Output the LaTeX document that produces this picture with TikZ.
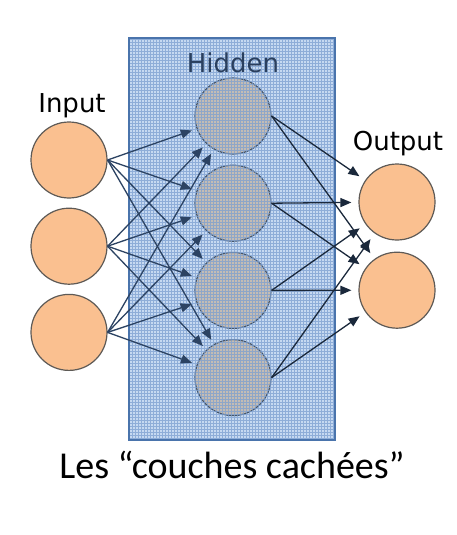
\documentclass[tikz,border=0pt]{standalone}
\usepackage{fontspec}
\usepackage{xcolor}
\usepackage{tikz}
\usetikzlibrary{arrows.meta,positioning}
\newfontfamily\labelfont{DejaVu Sans}
\newfontfamily\capfont{Carlito}
\definecolor{peach}{HTML}{FAC090}
\definecolor{peachline}{HTML}{5E5A56}
\definecolor{hidfill}{HTML}{C4BCB4}
\definecolor{hidline}{HTML}{46566A}
\definecolor{boxfill}{HTML}{C6D9F1}
\definecolor{boxgrid}{HTML}{7C9FD0}
\definecolor{boxline}{HTML}{4A74AC}
\definecolor{wire}{HTML}{2C4363}
\definecolor{hidtext}{HTML}{2A3F5E}

\begin{document}
\begin{tikzpicture}[
    x=1pt, y=-1pt,
    node distance=9pt,
    neuron/.style={circle, draw=peachline, line width=1.2pt, fill=peach, minimum size=76pt, inner sep=0pt},
    hiddenneuron/.style={neuron, draw=hidline, fill=hidfill},
    layername/.style={font=\labelfont\fontsize{26}{26}\selectfont, anchor=base},
    arrow/.style={-{Triangle[length=11pt,width=9pt]}, line width=1.3pt, draw=wire, shorten >=5pt},
    outarrow/.style={arrow, draw=wire!60!black, shorten >=7pt}
]
\fill[white] (0,0) rectangle (456,535);
\useasboundingbox (0,0) rectangle (456,535);
% hidden layer box
\fill[boxfill] (129,38) rectangle (335,440);
% neurons
\node[neuron] (i1) at (69,160) {};
\node[neuron, below=9pt of i1] (i2) {};
\node[neuron, below=9pt of i2] (i3) {};
\node[hiddenneuron] (h1) at (233,116) {};
\node[hiddenneuron, below=10pt of h1] (h2) {};
\node[hiddenneuron, below=10pt of h2] (h3) {};
\node[hiddenneuron, below=10pt of h3] (h4) {};
\node[neuron] (o1) at (397,202) {};
\node[neuron, below=11pt of o1] (o2) {};
% grid texture over the box
\begin{scope}
  \clip (129,38) rectangle (335,440);
  \draw[boxgrid, line width=0.4pt, opacity=0.75, step=3pt] (129,38) grid (335,440);
\end{scope}
\draw[boxline, line width=2pt] (129,38) rectangle (335,440);
% connections
\foreach \i in {1,2,3}
  \foreach \h in {1,2,3,4}
    \draw[arrow] (i\i.east) -- (h\h);
\foreach \h in {1,2,3,4}
  \foreach \o in {1,2}
    \draw[outarrow] (h\h.east) -- (o\o);
% labels
\node[layername] (inlabel) at (72,112) {Input};
\node[layername, text=hidtext] (hidlabel) at (233,72) {Hidden};
\node[layername] (outlabel) at (398,150) {Output};
\node[font=\capfont\fontsize{38}{38}\selectfont, anchor=base] (caption) at (232,478) {Les “couches cachées”};
\end{tikzpicture}
\end{document}
